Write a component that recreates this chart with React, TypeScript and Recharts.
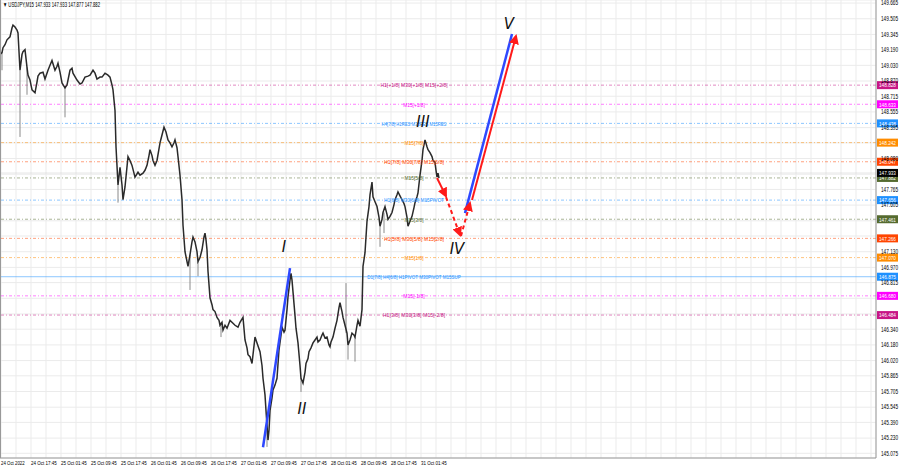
import React from 'react';
import { ComposedChart, Line, XAxis, YAxis, CartesianGrid, ReferenceLine, ReferenceDot } from 'recharts';

// USDJPY M15 traced close prices (bar number -> price)
const barIndex = [
  0, 2, 3, 5, 7, 10, 12, 13, 15, 17,
  18, 20, 22, 23, 25, 27, 28, 30, 32, 35,
  37, 38, 40, 43, 45, 48, 50, 52, 55, 57,
  58, 60, 62, 65, 67, 70, 72, 73, 77, 80,
  82, 85, 88, 90, 93, 95, 97, 100, 102, 105,
  108, 110, 112, 113, 115, 116, 118, 120, 122, 123,
  125, 128, 130, 132, 135, 138, 140, 143, 145, 147,
  149, 150, 152, 153, 155, 157, 160, 162, 164, 166,
  168, 170, 172, 174, 175, 177, 178, 180, 182, 183,
  185, 187, 188, 190, 192, 193, 195, 197, 198, 200,
  202, 204, 205, 206, 207, 208, 210, 212, 213, 215,
  217, 219, 220, 222, 223, 225, 227, 230, 233, 235,
  238, 240, 243, 245, 247, 248, 250, 252, 253, 255,
  257, 260, 262, 263, 265, 266, 267, 268, 269, 270,
  272, 273, 275, 277, 279, 281, 282, 284, 285, 287,
  288, 290, 291, 292, 293, 295, 296, 298, 300, 301,
  303, 305, 306, 308, 309, 311, 313, 315, 317, 318,
  320, 322, 323, 325, 327, 329, 330, 331, 333, 335,
  337, 339, 340, 342, 343, 345, 347, 348, 350, 352,
  354, 355, 357, 358, 360, 362, 363, 365, 367, 369,
  370, 372, 373, 375, 377, 379, 380, 382, 383, 385,
  387, 388, 390, 392, 394, 395, 397, 398, 400, 402,
  404, 405, 407, 408, 410, 412, 414, 415, 417, 418,
  420, 422, 423, 425, 427, 428, 430, 432, 433, 435,
  436, 437, 438, 439,
];
const closes = [
  149.14, 149.16, 149.21, 149.24, 149.29, 149.32, 149.41, 149.44, 149.42, 149.39,
  149.36, 148.98, 149.14, 149.17, 149.19, 149.01, 148.93, 148.88, 148.78, 148.75,
  148.86, 148.92, 148.95, 148.96, 148.89, 148.98, 149.03, 149.08, 148.98, 149.02,
  149.05, 148.96, 148.85, 148.8, 148.83, 148.98, 149.0, 148.95, 148.88, 148.84,
  148.85, 148.91, 148.92, 148.93, 148.98, 148.95, 148.89, 148.91, 148.91, 148.95,
  148.93, 148.91, 148.83, 148.78, 148.57, 148.2, 147.81, 147.99, 147.81, 147.66,
  147.79, 148.1, 148.06, 148.01, 147.89, 147.94, 147.91, 147.93, 147.96, 148.01,
  148.11, 148.17, 148.11, 148.06, 148.01, 148.06, 148.24, 148.32, 148.4, 148.35,
  148.27, 148.24, 148.2, 148.24, 148.27, 148.19, 148.1, 147.91, 147.66, 147.4,
  147.13, 147.03, 146.98, 147.1, 147.23, 147.28, 147.23, 147.13, 147.03, 147.07,
  147.15, 147.28, 147.32, 147.25, 147.15, 146.93, 146.66, 146.59, 146.54, 146.52,
  146.46, 146.43, 146.38, 146.41, 146.33, 146.38, 146.35, 146.43, 146.4, 146.38,
  146.36, 146.41, 146.46, 146.23, 146.15, 146.08, 146.06, 145.99, 146.08, 146.26,
  146.2, 146.11, 145.97, 145.84, 145.67, 145.51, 145.36, 145.21, 145.31, 145.51,
  145.64, 145.72, 145.77, 145.84, 146.13, 146.28, 146.36, 146.31, 146.33, 146.54,
  146.67, 146.84, 146.91, 146.84, 146.72, 146.48, 146.35, 146.2, 145.97, 145.84,
  145.79, 145.9, 145.99, 146.04, 146.11, 146.15, 146.2, 146.23, 146.26, 146.21,
  146.23, 146.28, 146.3, 146.25, 146.26, 146.18, 146.16, 146.21, 146.26, 146.35,
  146.43, 146.56, 146.61, 146.52, 146.46, 146.38, 146.3, 146.18, 146.23, 146.3,
  146.28, 146.26, 146.38, 146.43, 146.37, 146.54, 146.98, 147.12, 147.44, 147.59,
  147.71, 147.84, 147.69, 147.64, 147.59, 147.48, 147.39, 147.46, 147.53, 147.59,
  147.51, 147.46, 147.49, 147.53, 147.61, 147.66, 147.71, 147.74, 147.7, 147.66,
  147.62, 147.59, 147.48, 147.39, 147.44, 147.49, 147.58, 147.63, 147.69, 147.73,
  147.91, 148.06, 148.17, 148.27, 148.2, 148.17, 148.14, 148.1, 148.06, 148.04,
  147.96, 147.89, 147.93, 147.88,
];

// long shadows
const wickIndex = [2, 20, 27, 65, 118, 190, 198, 221, 267, 301, 346, 348, 355, 380, 384];
const wickLow = [148.98, 148.3, 148.73, 148.5, 147.63, 146.74, 146.88, 146.26, 145.14, 145.7, 146.3, 146.03, 146.01, 147.18, 147.32];
const wickHigh = [149.16, 148.98, 149.01, 148.8, 147.81, 147.1, 147.03, 146.41, 145.36, 145.84, 146.81, 146.18, 146.26, 147.39, 147.53];

// Murrey math levels
const levelPrices = [148.828, 148.633, 148.438, 148.242, 148.047, 147.882, 147.656, 147.461, 147.266, 147.07, 146.875, 146.68, 146.484];
const levelColors = ['#c71585', '#ff00ff', '#1e90ff', '#ff8c00', '#ff4500', '#556b2f', '#1e90ff', '#556b2f', '#ff4500', '#ff8c00', '#1e90ff', '#ff00ff', '#c71585'];
const levelTexts = [
  'H1[+1/8] M30[+1/8] M15[+2/8]',
  'M15[+1/8]',
  'H4[7/8] H1RES M30RES M15RES',
  'M15[7/8]',
  'H1[7/8] M30[7/8] M15[6/8]',
  'M15[5/8]',
  'H1[6/8] M30[6/8] M15PIVOT',
  'M15[3/8]',
  'H1[5/8] M30[5/8] M15[2/8]',
  'M15[1/8]',
  'D1[7/8] H4[6/8] H1PIVOT M30PIVOT M15SUP',
  'M15[-1/8]',
  'H1[3/8] M30[3/8] M15[-2/8]',
];
const bidPrice = 147.933;

// wave count
const waveNames = ['I', 'II', 'III', 'IV', 'V'];
const waveX = [284, 302, 423, 457, 509];
const wavePrice = [147.18, 145.53, 148.45, 147.16, 149.45];

const blueLegs = [
  { x: [263, 290], p: [145.137, 146.963] },
  { x: [465, 512], p: [147.523, 149.349] },
];
const redLegs = [
  { x: [437, 446], p: [147.881, 147.697], dashed: false },
  { x: [446, 460], p: [147.687, 147.299], dashed: true },
  { x: [461, 470], p: [147.289, 147.626], dashed: true },
  { x: [472, 516], p: [147.656, 149.329], dashed: false },
];

const priceTicks = [149.665, 149.505, 149.345, 149.19, 149.03, 148.87, 148.715, 148.555, 148.395, 148.24, 148.08, 147.92, 147.765, 147.605, 147.445, 147.29, 147.13, 146.97, 146.815, 146.655, 146.495, 146.34, 146.18, 146.02, 145.865, 145.705, 145.545, 145.39, 145.23, 145.075];
const timeLabels = ['24 Oct 2022', '24 Oct 17:45', '25 Oct 01:45', '25 Oct 09:45', '25 Oct 17:45', '26 Oct 01:45', '26 Oct 09:45', '26 Oct 17:45', '27 Oct 01:45', '27 Oct 09:45', '27 Oct 17:45', '28 Oct 01:45', '28 Oct 09:45', '28 Oct 17:45', '31 Oct 01:45'];
const gridX = Array.from({ length: 59 }, (_, i) => 1 + i * 15);
const headerText = '▼ USDJPY,M15  147.933 147.933 147.877 147.882';

const FONT = "'Liberation Sans', Arial, sans-serif";
const LABEL_X = 414;
const boxPrices = [...levelPrices, bidPrice];

const rows = barIndex.map((x, i) => ({ x, close: closes[i] }));

function PriceTick({ x, y, payload }: any) {
  // MT4 hides scale labels sitting under a price box
  if (boxPrices.some((p) => Math.abs(p - payload.value) < 0.03)) return null;
  return (
    <text x={x - 4} y={y} dy={2.3} fontSize={6.5} fill="#000" fontFamily={FONT} textAnchor="start"
      textLength={17} lengthAdjust="spacingAndGlyphs">
      {payload.value.toFixed(3)}
    </text>
  );
}

function TimeTick({ x, payload }: any) {
  const k = (payload.value - 1) / 30;
  if (!Number.isInteger(k) || k >= timeLabels.length) return null;
  const s = timeLabels[k];
  return (
    <text x={x} y={465} fontSize={6} fill="#000" fontFamily={FONT} textAnchor="start"
      textLength={s.length * 2.15} lengthAdjust="spacingAndGlyphs">
      {s}
    </text>
  );
}

function priceBox(color: string, text: string) {
  return ({ viewBox }: any) => {
    const bx = viewBox.x + viewBox.width + 1;
    return (
      <g>
        <rect x={bx} y={viewBox.y - 4} width={21} height={8} fill={color} />
        <text x={bx + 2} y={viewBox.y + 2.3} fontSize={6} fill="#fff" fontFamily={FONT}
          textLength={17} lengthAdjust="spacingAndGlyphs">{text}</text>
      </g>
    );
  };
}

export default function App() {
  return (
    <div style={{ position: 'absolute', left: 0, top: 0, width: 900, height: 468, background: '#fff' }}>
      <ComposedChart width={900} height={468} data={rows} margin={{ top: 0, right: 0, bottom: 0, left: 0 }}>
        <defs>
          <marker id="arrowRed" viewBox="0 0 10 10" refX="8" refY="5" markerWidth="5" markerHeight="5" orient="auto">
            <path d="M0,0 L10,5 L0,10 z" fill="#ff1a1a" />
          </marker>
        </defs>
        <CartesianGrid stroke="#ebebeb" />
        <XAxis dataKey="x" type="number" domain={[0, 876]} ticks={gridX} tick={<TimeTick />} height={10} interval={0}
          axisLine={{ stroke: '#999' }} tickLine={false} allowDataOverflow />
        <YAxis orientation="right" type="number" domain={[145.027, 149.696]} ticks={priceTicks} tick={<PriceTick />} width={24}
          interval={0} axisLine={{ stroke: '#999' }} tickLine={false} tickMargin={3} allowDataOverflow />
        {levelPrices.map((p, i) => (
          <ReferenceLine key={'lv' + i} y={p} stroke={levelColors[i]} strokeOpacity={0.5}
            strokeDasharray={i === 10 ? undefined : '3 2 1 2'} label={priceBox(levelColors[i], p.toFixed(3))} />
        ))}
        <ReferenceLine y={bidPrice} stroke="#c8c8c8" strokeOpacity={0.4} label={priceBox('#000', bidPrice.toFixed(3))} />
        {levelPrices.map((p, i) => (
          <ReferenceDot key={'lt' + i} x={LABEL_X} y={p} r={0}
            shape={(props: any) => (
              <text x={props.cx} y={props.cy + 2.3} fontSize={6} fill={levelColors[i]} textAnchor="middle" fontFamily={FONT}
                textLength={levelTexts[i].length * 2.4} lengthAdjust="spacingAndGlyphs">
                {levelTexts[i]}
              </text>
            )} />
        ))}
        {wickIndex.map((x, i) => (
          <Line key={'w' + i} data={[{ x, close: wickLow[i] }, { x, close: wickHigh[i] }]} dataKey="close"
            stroke="#8a8a8a" strokeWidth={1} dot={false} isAnimationActive={false} />
        ))}
        <Line dataKey="close" type="linear" stroke="#2a2a2a" strokeWidth={1.5} dot={false} isAnimationActive={false} />
        {blueLegs.map((leg, i) => (
          <Line key={'b' + i} data={leg.x.map((x, j) => ({ x, close: leg.p[j] }))} dataKey="close"
            stroke="#2e48ff" strokeWidth={2.5} dot={false} isAnimationActive={false} />
        ))}
        {redLegs.map((leg, i) => (
          <Line key={'r' + i} data={leg.x.map((x, j) => ({ x, close: leg.p[j] }))} dataKey="close"
            stroke="#ff1a1a" strokeWidth={2} strokeDasharray={leg.dashed ? '4 3' : undefined}
            markerEnd="url(#arrowRed)" dot={false} isAnimationActive={false} />
        ))}
        {waveNames.map((n, i) => (
          <ReferenceDot key={'wv' + i} x={waveX[i]} y={wavePrice[i]} r={0}
            shape={(props: any) => (
              <text x={props.cx} y={props.cy + 5} fontSize={15} fontStyle="italic" fill="#111" textAnchor="middle" fontFamily="'DejaVu Sans', sans-serif">
                {n}
              </text>
            )} />
        ))}
        <text x={3} y={7} fontSize={6.5} fill="#000" fontFamily={FONT} textLength={97} lengthAdjust="spacingAndGlyphs">
          {headerText}
        </text>
      </ComposedChart>
      <div style={{ position: 'absolute', left: 0, top: 0, width: 1, height: 458, background: '#999' }} />
    </div>
  );
}
